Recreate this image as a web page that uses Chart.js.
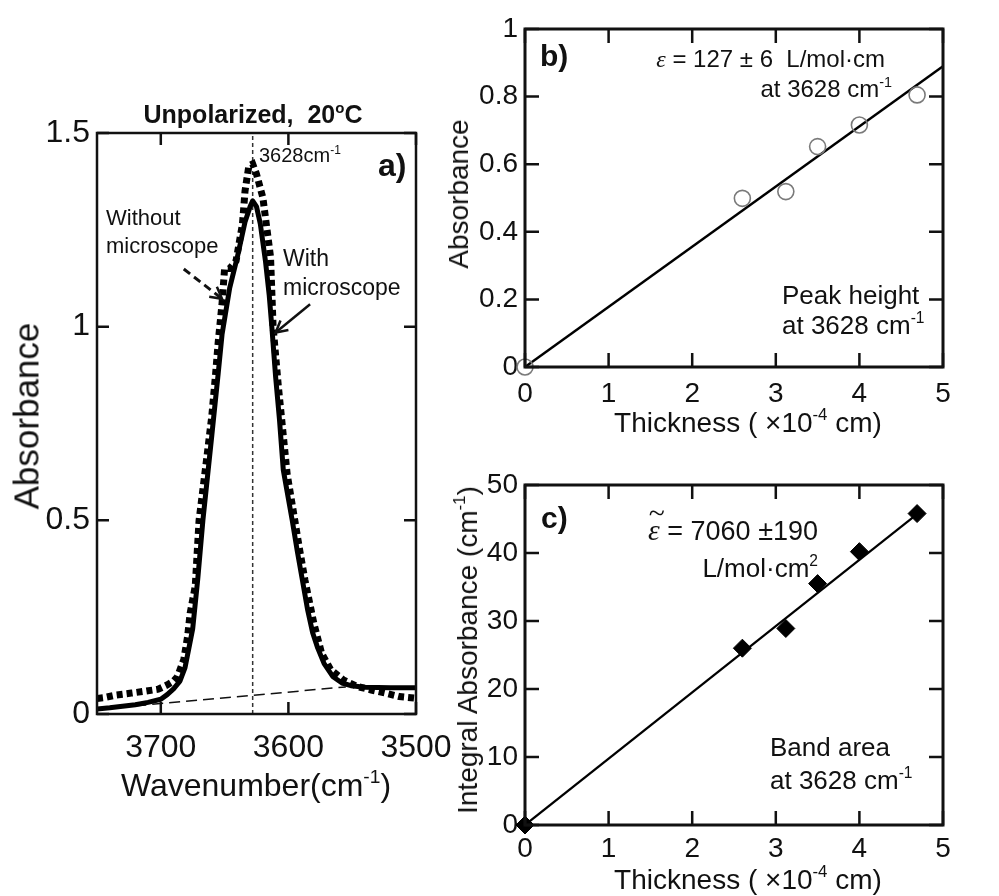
<!DOCTYPE html>
<html>
<head>
<meta charset="utf-8">
<script src="https://cdn.jsdelivr.net/npm/chart.js@4.4.1/dist/chart.umd.min.js"></script>
<style>
  html, body { margin: 0; padding: 0; background: #fff; }
  #wrap { position: relative; width: 999px; height: 896px; overflow: hidden; background: #fff;
          font-family: "Liberation Sans", Arial, sans-serif; color: #111; }
  canvas { position: absolute; }
  .t { position: absolute; white-space: nowrap; line-height: 1; }
  .c { transform: translateX(-50%); }
  .r { transform: translate(-50%, -50%) rotate(-90deg); }
  .sup { font-size: 0.6em; position: relative; top: -0.7em; }
  .eps { font-family: "Liberation Serif", "DejaVu Serif", serif; font-style: italic; }
  .b { font-weight: bold; }
</style>
</head>
<body>
<div id="wrap">
  <canvas id="ca" width="480" height="800" style="left:0px;top:0px;width:480px;height:800px"></canvas>
  <canvas id="cb" width="559" height="440" style="left:440px;top:0px;width:559px;height:440px"></canvas>
  <canvas id="cc" width="559" height="456" style="left:440px;top:440px;width:559px;height:456px"></canvas>

  <!-- Panel a texts -->
  <div class="t c b" style="left:253px;top:102px;font-size:25px">Unpolarized,&nbsp; 20<span class="sup">o</span>C</div>
  <div class="t" style="left:259px;top:145px;font-size:20px">3628cm<span class="sup">-1</span></div>
  <div class="t b" style="left:378px;top:149px;font-size:32px">a)</div>
  <div class="t" style="left:106px;top:207px;font-size:22px">Without</div>
  <div class="t" style="left:106px;top:235px;font-size:22px">microscope</div>
  <div class="t" style="left:283px;top:247px;font-size:23px">With</div>
  <div class="t" style="left:283px;top:276px;font-size:23px">microscope</div>
  <div class="t r" style="left:26px;top:416px;font-size:35px">Absorbance</div>
  <div class="t c" style="left:256px;top:769px;font-size:32px">Wavenumber(cm<span class="sup">-1</span>)</div>

  <!-- Panel b texts -->
  <div class="t b" style="left:540px;top:41px;font-size:30px">b)</div>
  <div class="t" style="right:114px;top:47px;font-size:24px"><span class="eps">ε</span> = 127 ± 6&nbsp; L/mol·cm</div>
  <div class="t" style="right:107px;top:77px;font-size:24px">at 3628 cm<span class="sup">-1</span></div>
  <div class="t" style="left:782px;top:282px;font-size:26px">Peak height</div>
  <div class="t" style="left:782px;top:312px;font-size:26px">at 3628 cm<span class="sup">-1</span></div>
  <div class="t r" style="left:459px;top:194px;font-size:28px">Absorbance</div>
  <div class="t c" style="left:748px;top:409px;font-size:28px">Thickness ( ×10<span class="sup">-4</span> cm)</div>

  <!-- Panel c texts -->
  <div class="t b" style="left:541px;top:503px;font-size:30px">c)</div>
  <div class="t" style="right:181px;top:516px;font-size:27px"><span class="eps" style="position:relative;font-size:1.1em">ε<span style="position:absolute;left:0.02em;top:-0.5em;font-style:normal">~</span></span> = 7060 ±190</div>
  <div class="t" style="right:181px;top:555px;font-size:26px">L/mol·cm<span class="sup">2</span></div>
  <div class="t" style="left:770px;top:734px;font-size:26px">Band area</div>
  <div class="t" style="left:770px;top:767px;font-size:26px">at 3628 cm<span class="sup">-1</span></div>
  <div class="t r" style="left:468px;top:650px;font-size:28px">Integral Absorbance (cm<span class="sup">-1</span>)</div>
  <div class="t c" style="left:748px;top:866px;font-size:28px">Thickness ( ×10<span class="sup">-4</span> cm)</div>
</div>

<script>
// ---------------- Data ----------------
// Panel a: spectrum "With microscope" (solid)
const wnWith = [3750,3740,3730,3720,3710,3700,3695,3690,3685,3681,3678,3675,3671,3667,3660,3655,3652,3646,3640,3634,3630,3628,3625,3622,3618,3615,3613,3610,3607,3604,3597,3593,3589,3585,3581,3577,3572,3565,3558,3551,3540,3520,3500];
const absWith = [0.013,0.016,0.020,0.024,0.030,0.038,0.05,0.065,0.085,0.12,0.17,0.22,0.35,0.5,0.72,0.88,0.98,1.10,1.18,1.27,1.31,1.325,1.31,1.265,1.17,1.08,1.0,0.87,0.76,0.63,0.5,0.42,0.345,0.27,0.21,0.17,0.13,0.096,0.08,0.073,0.069,0.068,0.068];
// Panel a: spectrum "Without microscope" (square dots)
const wnWithout = [3750,3745,3735,3723,3712,3702,3695,3690,3687,3682,3679,3677,3673,3670,3664,3660,3657,3655,3652,3650,3646,3641,3636,3634,3631,3628,3625,3620,3614,3612,3608,3601,3595,3591,3587,3580,3574,3567,3557,3546,3535,3524,3513,3501];
const absWithout = [0.04,0.042,0.049,0.054,0.059,0.064,0.075,0.085,0.096,0.14,0.2,0.26,0.33,0.5,0.66,0.77,0.88,0.96,1.06,1.15,1.15,1.17,1.265,1.35,1.415,1.42,1.394,1.333,1.18,1.0,0.85,0.62,0.5,0.42,0.345,0.233,0.157,0.115,0.088,0.071,0.062,0.054,0.045,0.041];
// Panel a: baseline (dashed) and peak marker
const wnBaseline = [3720, 3555];
const absBaseline = [0.021, 0.07];
const peakWn = 3628;
const absRange = [0, 1.5];

// Panels b & c: thickness (x10^-4 cm)
const thickness = [0, 2.6, 3.12, 3.5, 4.0, 4.69];
const peakHeight = [0, 0.499, 0.519, 0.652, 0.716, 0.805];
const bandArea = [0, 26.0, 28.9, 35.5, 40.2, 45.8];
// Linear fits
const fitXb = [0, 5];
const fitYb = [0, 0.89];
const fitXc = [0, 4.75];
const fitYc = [0, 46.3];

// ---------------- Helpers ----------------
Chart.defaults.font.family = "'Liberation Sans', Arial, sans-serif";
Chart.defaults.color = '#111';

const pts = (xs, ys) => xs.map((x, i) => ({ x: x, y: ys[i] }));
const plainNum = v => String(Number(Number(v).toFixed(3)));

const framePlugin = {
  id: 'frame',
  afterDraw(chart, args, o) {
    const { ctx, chartArea: a } = chart;
    const xs = chart.scales.x, ys = chart.scales.y;
    ctx.save();
    ctx.strokeStyle = '#111';
    ctx.lineCap = 'butt';
    ctx.lineWidth = o.tickWidth;
    ctx.beginPath();
    xs.ticks.forEach(t => {
      const p = xs.getPixelForValue(t.value);
      ctx.moveTo(p, a.bottom); ctx.lineTo(p, a.bottom - o.len);
      ctx.moveTo(p, a.top); ctx.lineTo(p, a.top + o.len);
    });
    ys.ticks.forEach(t => {
      const p = ys.getPixelForValue(t.value);
      ctx.moveTo(a.left, p); ctx.lineTo(a.left + o.len, p);
      ctx.moveTo(a.right, p); ctx.lineTo(a.right - o.len, p);
    });
    ctx.stroke();
    ctx.lineWidth = o.width;
    ctx.strokeRect(a.left, a.top, a.right - a.left, a.bottom - a.top);
    ctx.restore();
  }
};

const arrowPlugin = {
  id: 'arrows',
  afterDatasetsDraw(chart, args, o) {
    const { ctx } = chart;
    const xs = chart.scales.x, ys = chart.scales.y;
    (o.items || []).forEach(it => {
      const x1 = xs.getPixelForValue(it.from[0]), y1 = ys.getPixelForValue(it.from[1]);
      const x2 = xs.getPixelForValue(it.to[0]), y2 = ys.getPixelForValue(it.to[1]);
      ctx.save();
      ctx.strokeStyle = '#111';
      ctx.lineWidth = it.width;
      ctx.setLineDash(it.dash || []);
      ctx.beginPath(); ctx.moveTo(x1, y1); ctx.lineTo(x2, y2); ctx.stroke();
      ctx.setLineDash([]);
      const ang = Math.atan2(y2 - y1, x2 - x1), L = 13, s = 0.5;
      ctx.lineWidth = 2.5;
      ctx.beginPath();
      ctx.moveTo(x2 - L * Math.cos(ang - s), y2 - L * Math.sin(ang - s));
      ctx.lineTo(x2, y2);
      ctx.lineTo(x2 - L * Math.cos(ang + s), y2 - L * Math.sin(ang + s));
      ctx.stroke();
      ctx.restore();
    });
  }
};

const noGrid = { display: false, drawTicks: false };
const noBorder = { display: false };

// ---------------- Panel a ----------------
new Chart(document.getElementById('ca'), {
  type: 'scatter',
  data: {
    datasets: [
      { data: pts(wnWith, absWith), showLine: true, borderColor: '#000', borderWidth: 5,
        pointRadius: 0, borderJoinStyle: 'round' },
      { data: pts(wnWithout, absWithout), showLine: true, borderColor: '#000', borderWidth: 7,
        borderDash: [6, 4], pointRadius: 0, borderCapStyle: 'butt' },
      { data: pts(wnBaseline, absBaseline), showLine: true, borderColor: '#111', borderWidth: 1.5,
        borderDash: [11, 6], pointRadius: 0 },
      { data: pts([peakWn, peakWn], absRange), showLine: true, borderColor: '#333', borderWidth: 1.5,
        borderDash: [4, 3], pointRadius: 0 }
    ]
  },
  options: {
    responsive: false, animation: false, devicePixelRatio: 1,
    layout: { padding: { left: 0, top: 133, right: 64, bottom: 26 } },
    plugins: {
      legend: { display: false }, tooltip: { enabled: false },
      frame: { len: 12, width: 2.5, tickWidth: 2.5 },
      arrows: { items: [
        { from: [3682, 1.149], to: [3652, 1.072], width: 3, dash: [8, 5] },
        { from: [3583, 1.058], to: [3610, 0.985], width: 2.5 }
      ] }
    },
    scales: {
      x: { type: 'linear', reverse: true, min: 3500, max: 3750,
           ticks: { stepSize: 100, includeBounds: false, padding: 15, font: { size: 32 }, color: '#111',
                    maxRotation: 0, autoSkip: false, callback: v => String(v) },
           grid: noGrid, border: noBorder, afterFit(s) { s.height = 60; } },
      y: { type: 'linear', min: absRange[0], max: absRange[1],
           ticks: { stepSize: 0.5, padding: 7, font: { size: 32 }, color: '#111', callback: plainNum },
           grid: noGrid, border: noBorder, afterFit(s) { s.width = 97; } }
    }
  },
  plugins: [framePlugin, arrowPlugin]
});

// ---------------- Panel b ----------------
new Chart(document.getElementById('cb'), {
  type: 'scatter',
  data: {
    datasets: [
      { data: pts(thickness, peakHeight), pointStyle: 'circle', pointRadius: 8,
        pointBackgroundColor: 'rgba(255,255,255,0)', pointBorderColor: '#7a7a7a', pointBorderWidth: 1.6,
        clip: false },
      { data: pts(fitXb, fitYb), showLine: true, borderColor: '#000', borderWidth: 2.5, pointRadius: 0 }
    ]
  },
  options: {
    responsive: false, animation: false, devicePixelRatio: 1,
    layout: { padding: { left: 0, top: 29, right: 56, bottom: 23 } },
    plugins: { legend: { display: false }, tooltip: { enabled: false },
               frame: { len: 14, width: 3, tickWidth: 2.5 } },
    scales: {
      x: { type: 'linear', min: 0, max: 5,
           ticks: { stepSize: 1, padding: 10, font: { size: 28 }, color: '#111', maxRotation: 0, autoSkip: false,
                    callback: plainNum },
           grid: noGrid, border: noBorder, afterFit(s) { s.height = 50; } },
      y: { type: 'linear', min: 0, max: 1,
           ticks: { stepSize: 0.2, padding: 7, font: { size: 28 }, color: '#111', callback: plainNum },
           grid: noGrid, border: noBorder, afterFit(s) { s.width = 85; } }
    }
  },
  plugins: [framePlugin]
});

// ---------------- Panel c ----------------
new Chart(document.getElementById('cc'), {
  type: 'scatter',
  data: {
    datasets: [
      { data: pts(thickness, bandArea), pointStyle: 'rectRot', pointRadius: 9,
        pointBackgroundColor: '#000', pointBorderColor: '#000', pointBorderWidth: 1, clip: false },
      { data: pts(fitXc, fitYc), showLine: true, borderColor: '#000', borderWidth: 2.2, pointRadius: 0 }
    ]
  },
  options: {
    responsive: false, animation: false, devicePixelRatio: 1,
    layout: { padding: { left: 0, top: 45, right: 56, bottom: 21 } },
    plugins: { legend: { display: false }, tooltip: { enabled: false },
               frame: { len: 14, width: 3, tickWidth: 2.5 } },
    scales: {
      x: { type: 'linear', min: 0, max: 5,
           ticks: { stepSize: 1, padding: 7, font: { size: 28 }, color: '#111', maxRotation: 0, autoSkip: false,
                    callback: plainNum },
           grid: noGrid, border: noBorder, afterFit(s) { s.height = 50; } },
      y: { type: 'linear', min: 0, max: 50,
           ticks: { stepSize: 10, padding: 7, font: { size: 28 }, color: '#111', callback: plainNum },
           grid: noGrid, border: noBorder, afterFit(s) { s.width = 85; } }
    }
  },
  plugins: [framePlugin]
});
</script>
</body>
</html>
